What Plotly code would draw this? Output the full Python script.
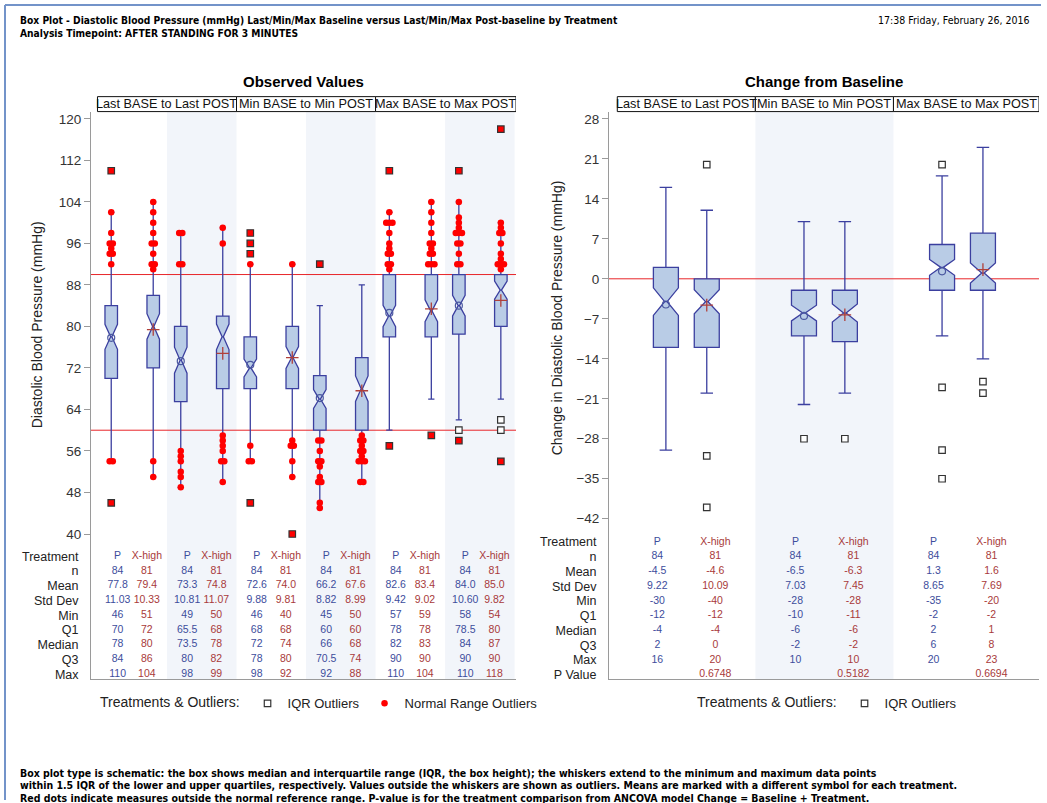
import math
import plotly.graph_objects as go

W, H = 1047, 803


def fx(p):
    return p / W


def fy(p):
    return 1 - p / H


# ---------------- data ----------------
treatments = ["P", "X-high"]
headers = ["Last BASE to Last POST", "Min BASE to Min POST", "Max BASE to Max POST"]
obs_rows = ["Treatment", "n", "Mean", "Std Dev", "Min", "Q1", "Median", "Q3", "Max"]
chg_rows = obs_rows + ["P Value"]
obs_ticks = [40, 48, 56, 64, 72, 80, 88, 96, 104, 112, 120]
chg_ticks = [-42, -35, -28, -21, -14, -7, 0, 7, 14, 21, 28]
normal_range = [60, 90]
chg_ref = [0]

# Observed values: 12 columns = (Last BASE, Last POST, Min BASE, Min POST, Max BASE, Max POST) x (P, X-high)
obs_n = [84, 81, 84, 81, 84, 81, 84, 81, 84, 81, 84, 81]
obs_mean = [77.8, 79.4, 73.3, 74.8, 72.6, 74.0, 66.2, 67.6, 82.6, 83.4, 84.0, 85.0]
obs_sd = [11.03, 10.33, 10.81, 11.07, 9.88, 9.81, 8.82, 8.99, 9.42, 9.02, 10.60, 9.82]
obs_min = [46, 51, 49, 50, 46, 40, 45, 50, 57, 59, 58, 54]
obs_q1 = [70, 72, 65.5, 68, 68, 68, 60, 60, 78, 78, 78.5, 80]
obs_median = [78, 80, 73.5, 78, 72, 74, 66, 68, 82, 83, 84, 87]
obs_q3 = [84, 86, 80, 82, 78, 80, 70.5, 74, 90, 90, 90, 90]
obs_max = [110, 104, 98, 99, 98, 92, 92, 88, 110, 104, 110, 118]
obs_low_whisker = [54, 51, 49, 50, 54, 51, 45, 50, 60, 66, 62, 66]
obs_up_whisker = [102, 104, 98, 99, 92, 92, 84, 88, 102, 104, 104, 100]
obs_range_outliers = [
    [102, 98, 96, 96, 95, 94, 94, 92, 54, 54],
    [104, 102, 100, 98, 96, 96, 94, 92, 92, 91, 54, 51],
    [98, 98, 92, 92, 56, 55, 54, 52, 51, 49],
    [99, 96, 59, 58, 57, 56, 54, 54, 50],
    [92, 57, 54, 54],
    [92, 58, 57, 57, 54, 51],
    [58, 58, 56, 54, 54, 53, 51, 50, 50, 46, 45],
    [59, 58, 58, 57, 56, 56, 55, 54, 54, 54, 50, 50],
    [102, 100, 100, 100, 98, 96, 95, 94, 94, 92, 92, 91],
    [104, 102, 100, 98, 96, 96, 95, 94, 94, 92, 92, 92],
    [104, 101, 100, 99, 98, 98, 98, 96, 96, 94, 92, 92],
    [100, 99, 98, 98, 96, 94, 93, 92, 92, 92, 91],
]
obs_iqr_outliers_red = [[110, 46], [], [], [], [98, 96, 94, 46], [40], [92], [], [110, 57], [59], [110, 58], [118, 54]]
obs_iqr_outliers = [[], [], [], [], [], [], [], [], [], [], [60], [62, 60]]

# Change from baseline: 6 columns = (Last, Min, Max) x (P, X-high)
chg_n = [84, 81, 84, 81, 84, 81]
chg_mean = [-4.5, -4.6, -6.5, -6.3, 1.3, 1.6]
chg_sd = [9.22, 10.09, 7.03, 7.45, 8.65, 7.69]
chg_min = [-30, -40, -28, -28, -35, -20]
chg_q1 = [-12, -12, -10, -11, -2, -2]
chg_median = [-4, -4, -6, -6, 2, 1]
chg_q3 = [2, 0, -2, -2, 6, 8]
chg_max = [16, 20, 10, 10, 20, 23]
chg_pvalue = ["0.6748", "0.5182", "0.6694"]
chg_low_whisker = [-30, -20, -22, -20, -10, -14]
chg_up_whisker = [16, 12, 10, 10, 18, 23]
chg_iqr_outliers = [[], [20, -31, -40], [-28], [-28], [20, -19, -30, -35], [-18, -20]]

# ---------------- style ----------------
FONT = "Liberation Sans, Arial, sans-serif"
NARROW = "Liberation Sans Narrow, Arial Narrow, DejaVu Sans Condensed, Liberation Sans, sans-serif"
BOX_LINE = "#3b3f9f"
BOX_FILL = "#b9cce6"
P_COL = "#3d4d9c"
X_COL = "#a83a3a"
AXIS_COL = "#9a9a9a"
BAND_COL = "#f2f5fa"
REF_COL = "#e8262a"
FRAME_COL = "#7393c9"

# geometry (pixels of the 1047x803 page)
L_X0, L_X1 = 91, 516
R_X0, R_X1 = 609, 1039
HEAD_TOP, HEAD_BOT = 97, 112
L_DATA_BOT, R_DATA_BOT = 541, 527
TABLE_BOT = 682
L_XRANGE = [-0.593, 5.52]
R_XRANGE = [-0.56, 2.554]
L_YRANGE = [39.04, 121.40]
R_YRANGE = [-43.1, 29.27]
L_TROWS = [8.35, -1.18]
R_TROWS = [9.32, -1.16]
L_BOX_OFF, R_BOX_OFF = 0.302, 0.148
TAB_OFF = 0.21


def notch(q1, q3, n):
    return 1.58 * (q3 - q1) / math.sqrt(n)


def spread(vals, center, step):
    counts = {}
    for v in vals:
        counts[v] = counts.get(v, 0) + 1
    seen = {}
    xs = []
    for v in vals:
        c = counts[v]
        j = seen.get(v, 0)
        seen[v] = j + 1
        xs.append(center + (j - (c - 1) / 2) * step)
    return xs


def fmt(v):
    return f"{v:g}"


fig = go.Figure()


def add_panel(xa, ya, xt, yt, n, mean, sd, mn, q1, med, q3, mx, lw, uw, box_off, box_w, step,
              red_dots, red_sq, plain_sq, pvals, legend_name, legend_show_red):
    ncol = len(n)
    mean_px = {0: ([], []), 1: ([], [])}
    rd_x, rd_y, rs_x, rs_y, ps_x, ps_y = [], [], [], [], [], []
    for c in range(ncol):
        band, t = divmod(c, 2)
        pos = band + (box_off if t else -box_off)
        fig.add_trace(go.Box(
            x=[pos], q1=[q1[c]], median=[med[c]], q3=[q3[c]],
            lowerfence=[lw[c]], upperfence=[uw[c]],
            notchspan=[notch(q1[c], q3[c], n[c])], notched=True, notchwidth=0.45,
            width=box_w, whiskerwidth=0.5, boxpoints=False,
            fillcolor=BOX_FILL, line=dict(color=BOX_LINE, width=1.3),
            xaxis=xa, yaxis=ya, showlegend=False, hoverinfo="skip"))
        mean_px[t][0].append(pos)
        mean_px[t][1].append(mean[c])
        if red_dots is not None:
            rd_x += spread(red_dots[c], pos, step)
            rd_y += red_dots[c]
        if red_sq is not None:
            rs_x += [pos] * len(red_sq[c])
            rs_y += red_sq[c]
        ps_x += [pos] * len(plain_sq[c])
        ps_y += plain_sq[c]
    # means
    fig.add_trace(go.Scatter(x=mean_px[0][0], y=mean_px[0][1], mode="markers", xaxis=xa, yaxis=ya,
                             marker=dict(symbol="circle-open", size=7, color="#4a58a0", line=dict(width=1.2)),
                             showlegend=False, hoverinfo="skip"))
    fig.add_trace(go.Scatter(x=mean_px[1][0], y=mean_px[1][1], mode="markers", xaxis=xa, yaxis=ya,
                             marker=dict(symbol="cross-thin-open", size=9, color="#b0403a", line=dict(width=1.3)),
                             showlegend=False, hoverinfo="skip"))
    # IQR outliers (hollow squares)
    fig.add_trace(go.Scatter(x=ps_x, y=ps_y, mode="markers", xaxis=xa, yaxis=ya, name="IQR Outliers",
                             marker=dict(symbol="square", size=6.5, color="white", line=dict(color="#333333", width=1.2)),
                             showlegend=True, legend=legend_name, legendrank=1, hoverinfo="skip"))
    if red_dots is not None:
        fig.add_trace(go.Scatter(x=rd_x, y=rd_y, mode="markers", xaxis=xa, yaxis=ya, name="Normal Range Outliers",
                                 marker=dict(symbol="circle", size=6.5, color="#ff0000"),
                                 showlegend=legend_show_red, legend=legend_name, legendrank=2, hoverinfo="skip"))
    if red_sq is not None:
        fig.add_trace(go.Scatter(x=rs_x, y=rs_y, mode="markers", xaxis=xa, yaxis=ya,
                                 marker=dict(symbol="square", size=6.5, color="#ff0000", line=dict(color="#333333", width=1.2)),
                                 showlegend=False, hoverinfo="skip"))
    # statistics table
    rows = [
        treatments * (ncol // 2),
        [str(v) for v in n],
        [f"{v:.1f}" for v in mean],
        [f"{v:.2f}" for v in sd],
        [fmt(v) for v in mn],
        [fmt(v) for v in q1],
        [fmt(v) for v in med],
        [fmt(v) for v in q3],
        [fmt(v) for v in mx],
    ]
    tx, ty, tt, tc = [], [], [], []
    for r, vals in enumerate(rows):
        for c, s in enumerate(vals):
            band, t = divmod(c, 2)
            tx.append(band + (TAB_OFF if t else -TAB_OFF))
            ty.append(r)
            tt.append(s)
            tc.append(X_COL if t else P_COL)
    if pvals is not None:
        for b, s in enumerate(pvals):
            tx.append(b + TAB_OFF)
            ty.append(len(rows))
            tt.append(s)
            tc.append(X_COL)
    fig.add_trace(go.Scatter(x=tx, y=ty, text=tt, mode="text", xaxis=xt, yaxis=yt,
                             textfont=dict(family=FONT, size=10.5, color=tc),
                             showlegend=False, hoverinfo="skip"))


add_panel("x", "y", "x3", "y3", obs_n, obs_mean, obs_sd, obs_min, obs_q1, obs_median, obs_q3, obs_max,
          obs_low_whisker, obs_up_whisker, L_BOX_OFF, 0.18, 0.045,
          obs_range_outliers, obs_iqr_outliers_red, obs_iqr_outliers, None, "legend", True)
add_panel("x2", "y2", "x4", "y4", chg_n, chg_mean, chg_sd, chg_min, chg_q1, chg_median, chg_q3, chg_max,
          chg_low_whisker, chg_up_whisker, R_BOX_OFF, 0.181, 0.025,
          None, None, chg_iqr_outliers, chg_pvalue, "legend2", False)

shapes = []
annotations = []

# band shading
for b in range(len(headers) * 2):
    if b % 2 == 1:
        shapes.append(dict(type="rect", xref="x", yref="paper", x0=b - 0.5, x1=min(b + 0.5, L_XRANGE[1]),
                           y0=fy(TABLE_BOT), y1=fy(HEAD_BOT), fillcolor=BAND_COL, line=dict(width=0), layer="below"))
for b in range(len(headers)):
    if b % 2 == 1:
        shapes.append(dict(type="rect", xref="x2", yref="paper", x0=b - 0.5, x1=b + 0.5,
                           y0=fy(TABLE_BOT), y1=fy(HEAD_BOT), fillcolor=BAND_COL, line=dict(width=0), layer="below"))

# reference lines
for v in normal_range:
    shapes.append(dict(type="line", xref="x domain", yref="y", x0=0, x1=1, y0=v, y1=v,
                       line=dict(color=REF_COL, width=1), layer="below"))
for v in chg_ref:
    shapes.append(dict(type="line", xref="x2 domain", yref="y2", x0=0, x1=1, y0=v, y1=v,
                       line=dict(color=REF_COL, width=1), layer="below"))

# header cells
for xr, rng, step in (("x", L_XRANGE, 2), ("x2", R_XRANGE, 1)):
    for i, h in enumerate(headers):
        x0 = max(rng[0], i * step - 0.5)
        x1 = min(rng[1], i * step + step - 0.5)
        if i == len(headers) - 1:
            x1 = rng[1]
        shapes.append(dict(type="rect", xref=xr, yref="paper", x0=x0, x1=x1, y0=fy(HEAD_BOT), y1=fy(HEAD_TOP),
                           fillcolor="white", line=dict(color="#111111", width=1)))
        annotations.append(dict(xref=xr, yref="paper", x=(x0 + x1) / 2, y=fy((HEAD_TOP + HEAD_BOT) / 2),
                                text=h, showarrow=False, font=dict(family=FONT, size=12.7, color="#111111"),
                                xanchor="center", yanchor="middle"))

# page frame
shapes.append(dict(type="line", xref="paper", yref="paper", x0=fx(5), x1=fx(1041), y0=fy(5), y1=fy(5),
                   line=dict(color=FRAME_COL, width=2)))
shapes.append(dict(type="line", xref="paper", yref="paper", x0=fx(5), x1=fx(5), y0=fy(5), y1=0,
                   line=dict(color=FRAME_COL, width=2)))

# titles
annotations += [
    dict(x=fx(18), y=fy(20.5), xanchor="left", yanchor="middle",
         text="<b>Box Plot - Diastolic Blood Pressure (mmHg) Last/Min/Max Baseline versus Last/Min/Max Post-baseline by Treatment</b>",
         font=dict(family=NARROW, size=10.2, color="#000000")),
    dict(x=fx(18), y=fy(33.5), xanchor="left", yanchor="middle",
         text="<b>Analysis Timepoint: AFTER STANDING FOR 3 MINUTES</b>",
         font=dict(family=NARROW, size=10.2, color="#000000")),
    dict(x=fx(1032), y=fy(20.5), xanchor="right", yanchor="middle",
         text="17:38 Friday, February 26, 2016",
         font=dict(family=NARROW, size=10.5, color="#000000")),
    dict(x=fx((L_X0 + L_X1) / 2), y=fy(82), xanchor="center", yanchor="middle",
         text="<b>Observed Values</b>", font=dict(family=FONT, size=15, color="#000000")),
    dict(x=fx((R_X0 + R_X1) / 2), y=fy(82), xanchor="center", yanchor="middle",
         text="<b>Change from Baseline</b>", font=dict(family=FONT, size=15, color="#000000")),
    dict(x=fx(37), y=fy((HEAD_BOT + L_DATA_BOT) / 2), textangle=-90, xanchor="center", yanchor="middle",
         text="Diastolic Blood Pressure (mmHg)", font=dict(family=FONT, size=14, color="#222222")),
    dict(x=fx(557), y=fy((HEAD_BOT + R_DATA_BOT) / 2), textangle=-90, xanchor="center", yanchor="middle",
         text="Change in Diastolic Blood Pressure (mmHg)", font=dict(family=FONT, size=14, color="#222222")),
]
foot = [
    "Box plot type is schematic: the box shows median and interquartile range (IQR, the box height); the whiskers extend to the minimum and maximum data points",
    "within 1.5 IQR of the lower and upper quartiles, respectively. Values outside the whiskers are shown as outliers. Means are marked with a different symbol for each treatment.",
    "Red dots indicate measures outside the normal reference range. P-value is for the treatment comparison from ANCOVA model Change = Baseline + Treatment.",
]
for i, t in enumerate(foot):
    annotations.append(dict(x=fx(18), y=fy(775.5 + 12.6 * i), xanchor="left", yanchor="middle",
                            text=f"<b>{t}</b>", font=dict(family=NARROW, size=10.5, color="#000000")))
for a in annotations:
    a.setdefault("showarrow", False)
    a.setdefault("xref", "paper")
    a.setdefault("yref", "paper")

hidden_x = dict(showline=False, showgrid=False, zeroline=False, showticklabels=False, ticks="")
data_y = dict(showline=True, linecolor=AXIS_COL, linewidth=1, ticks="outside", ticklen=6, tickcolor=AXIS_COL,
              showgrid=False, zeroline=False, tickfont=dict(family=FONT, size=13.5, color="#333333"))
table_y = dict(showline=True, linecolor=AXIS_COL, linewidth=1, ticks="", showgrid=False, zeroline=False,
               tickfont=dict(family=FONT, size=12.5, color="#222222"), ticklabelstandoff=9)
table_x = dict(showline=True, linecolor=AXIS_COL, linewidth=1, showgrid=False, zeroline=False,
               showticklabels=False, ticks="")

fig.update_layout(
    width=W, height=H, margin=dict(l=0, r=0, t=0, b=0),
    paper_bgcolor="white", plot_bgcolor="rgba(0,0,0,0)",
    font=dict(family=FONT, color="#222222"),
    boxmode="overlay",
    xaxis=dict(domain=[fx(L_X0), fx(L_X1)], range=L_XRANGE, anchor="y", **hidden_x),
    yaxis=dict(domain=[fy(L_DATA_BOT), fy(HEAD_BOT)], range=L_YRANGE, anchor="x", tickvals=obs_ticks, **data_y),
    xaxis3=dict(domain=[fx(L_X0), fx(L_X1)], range=L_XRANGE, anchor="y3", **table_x),
    yaxis3=dict(domain=[fy(TABLE_BOT), fy(L_DATA_BOT)], range=L_TROWS, anchor="x3",
                tickvals=list(range(len(obs_rows))), ticktext=obs_rows, **table_y),
    xaxis2=dict(domain=[fx(R_X0), fx(R_X1)], range=R_XRANGE, anchor="y2", **hidden_x),
    yaxis2=dict(domain=[fy(R_DATA_BOT), fy(HEAD_BOT)], range=R_YRANGE, anchor="x2", tickvals=chg_ticks, **data_y),
    xaxis4=dict(domain=[fx(R_X0), fx(R_X1)], range=R_XRANGE, anchor="y4", **table_x),
    yaxis4=dict(domain=[fy(TABLE_BOT), fy(R_DATA_BOT)], range=R_TROWS, anchor="x4",
                tickvals=list(range(len(chg_rows))), ticktext=chg_rows, **table_y),
    legend=dict(orientation="h", x=fx(98), y=fy(706), xanchor="left", yanchor="middle",
                title=dict(text="Treatments & Outliers:", side="left", font=dict(family=FONT, size=14, color="#222222")),
                font=dict(family=FONT, size=13, color="#222222"), itemwidth=30, bgcolor="rgba(0,0,0,0)"),
    legend2=dict(orientation="h", x=fx(695), y=fy(706), xanchor="left", yanchor="middle",
                 title=dict(text="Treatments & Outliers:", side="left", font=dict(family=FONT, size=14, color="#222222")),
                 font=dict(family=FONT, size=13, color="#222222"), itemwidth=30, bgcolor="rgba(0,0,0,0)"),
    shapes=shapes,
    annotations=annotations,
)

fig.write_html("out.html", config={"displayModeBar": False},
               post_script="document.body.style.margin='0';")
